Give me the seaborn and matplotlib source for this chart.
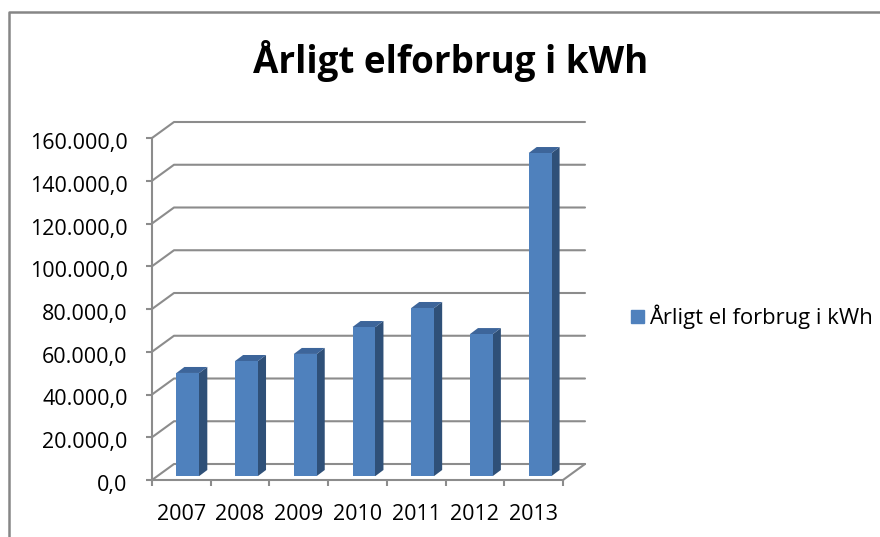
import matplotlib
matplotlib.use("Agg")
import matplotlib.pyplot as plt
import seaborn as sns
from matplotlib.lines import Line2D
from matplotlib.patches import Patch, Polygon
from matplotlib.transforms import ScaledTranslation

years = ["2007", "2008", "2009", "2010", "2011", "2012", "2013"]
kwh = [48200, 53800, 57100, 69700, 78600, 66400, 151100]
y_ticks = [0, 20000, 40000, 60000, 80000, 100000, 120000, 140000, 160000]
y_labels = ["0,0", "20.000,0", "40.000,0", "60.000,0", "80.000,0",
            "100.000,0", "120.000,0", "140.000,0", "160.000,0"]
title = "Årligt elforbrug i kWh"
series_name = "Årligt el forbrug i kWh"

W, H = 880, 537
FRONT = "#4f81bd"
SIDE = "#2f5078"
TOP = "#3d659a"
GREY = "#8c8c8c"

sns.set_theme(style="white")
plt.rcParams["font.family"] = ["Open Sans", "DejaVu Sans"]

fig = plt.figure(figsize=(W / 100, H / 100), dpi=100)
ax = fig.add_axes([152 / W, 1 - 480 / H, 411 / W, 342 / H])

sns.barplot(x=years, y=kwh, color=FRONT, saturation=1, width=0.39, linewidth=0,
            ax=ax, zorder=4)
ax.set_xlim(-0.5, 6.5)
ax.set_ylim(0, 160000)

# depth of the box and the bars, in data units
wall_dx, wall_dy = 22 / 58.7, 16 / 342 * 160000
bar_dx, bar_dy = 8 / 58.7, 6 / 342 * 160000
shift_x, shift_y = 6.5 / 58.7, 4 / 342 * 160000

# back wall gridlines and the slanted bits
for v in y_ticks:
    ax.plot([-0.5, -0.5 + wall_dx, 6.5 + wall_dx], [v, v + wall_dy, v + wall_dy],
            color=GREY, lw=1.5, clip_on=False, zorder=1)
ax.plot([6.5, 6.5 + wall_dx], [0, wall_dy], color=GREY, lw=1.5, clip_on=False, zorder=1)

# bars are pushed into the floor, then get a side and a top
for bar in ax.patches:
    bar.set_x(bar.get_x() + shift_x)
    bar.set_y(shift_y)
    bar.set_clip_on(False)
    x0 = bar.get_x()
    x1 = x0 + bar.get_width()
    y1 = bar.get_height() + shift_y
    # side starts a little under the front so no seam shows
    ax.add_patch(Polygon([(x1 - 0.03, shift_y), (x1, shift_y), (x1 + bar_dx, shift_y + bar_dy),
                          (x1 + bar_dx, y1 + bar_dy), (x1, y1), (x1 - 0.03, y1)],
                         color=SIDE, lw=0, clip_on=False, zorder=3))
    ax.add_patch(Polygon([(x0, y1), (x0 + bar_dx, y1 + bar_dy),
                          (x1 + bar_dx, y1 + bar_dy), (x1, y1)],
                         color=TOP, lw=0, clip_on=False, zorder=3))

sns.despine(ax=ax)
for side in ["left", "bottom"]:
    ax.spines[side].set_color(GREY)
    ax.spines[side].set_linewidth(1.5)

ax.set_yticks(y_ticks)
ax.set_yticklabels(y_labels)
ax.set_xticks([i - 0.5 for i in range(8)])
ax.set_xticklabels([])
ax.set_xticks(range(7), minor=True)
ax.set_xticklabels(years, minor=True)
ax.tick_params(axis="both", which="major", length=4.5, width=1.5, color=GREY,
               left=True, bottom=True)
ax.tick_params(axis="y", pad=13, labelsize=15.5, labelcolor="black")
ax.tick_params(axis="x", which="minor", length=0, pad=17, labelsize=15.5, labelcolor="black")

# labels sit a bit below the tick in the original
nudge = ScaledTranslation(0, -3 / 100, fig.dpi_scale_trans)
for lab in ax.get_yticklabels():
    lab.set_transform(lab.get_transform() + nudge)

fig.text(451 / W, 1 - 73 / H, title, ha="center", va="baseline",
         fontsize=26.5, fontweight="bold", color="black")

ax.legend(handles=[Patch(color=FRONT, label=series_name)], frameon=False,
          loc="center left", bbox_to_anchor=(611 / W, 1 - 317 / H),
          bbox_transform=fig.transFigure, fontsize=15.8, handlelength=0.6,
          handleheight=0.6, handletextpad=0.23, labelcolor="black")

# chart frame, cut off at the right and bottom of the screenshot
fig.add_artist(Line2D([9 / W, 9 / W, 1], [0, 1 - 12 / H, 1 - 12 / H], color="#868686", lw=1.8))

fig.savefig("out.png", dpi=100)
